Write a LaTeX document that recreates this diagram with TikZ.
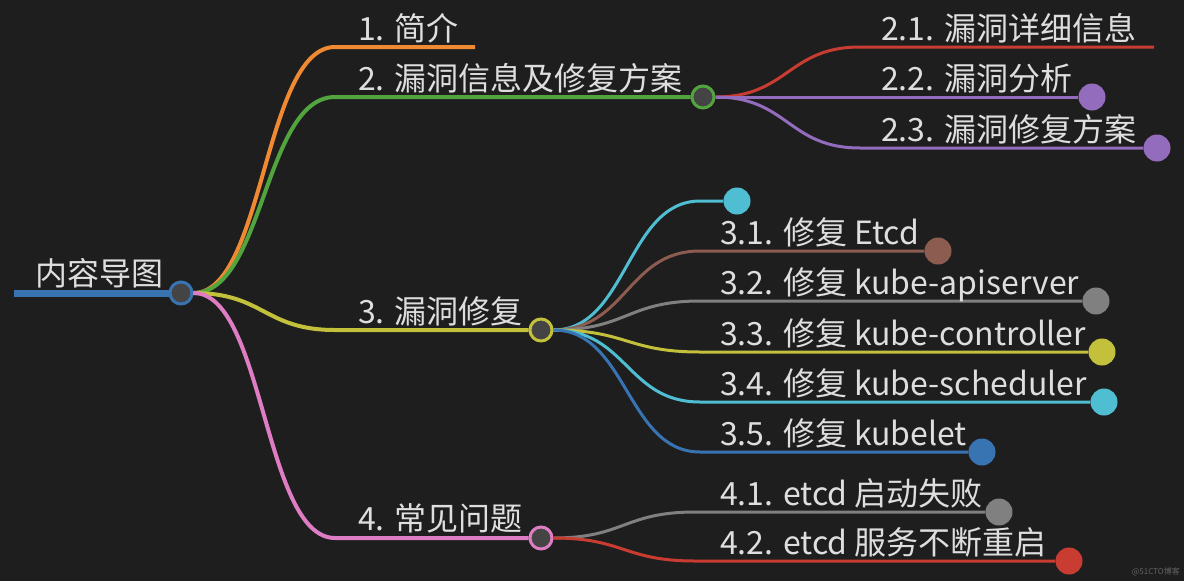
\documentclass[tikz,border=0pt]{standalone}
\usepackage{fontspec}
\setmainfont{Noto Sans CJK SC}
\usepackage{tikz}
\definecolor{bgc}{RGB}{30,30,30}
\definecolor{hubc}{RGB}{68,68,68}
\definecolor{txt}{RGB}{222,222,222}
\definecolor{kblue}{RGB}{56,116,178}
\definecolor{korange}{RGB}{240,138,50}
\definecolor{kgreen}{RGB}{82,165,62}
\definecolor{kred}{RGB}{200,60,50}
\definecolor{kpurple}{RGB}{148,108,190}
\definecolor{kbrown}{RGB}{140,92,80}
\definecolor{kpink}{RGB}{222,125,196}
\definecolor{kgray}{RGB}{128,128,128}
\definecolor{kolive}{RGB}{195,192,60}
\definecolor{kcyan}{RGB}{80,190,210}

\begin{document}
\begin{tikzpicture}[x=1pt,y=-1pt,
    lbl/.style={text=txt,font=\fontsize{32}{38}\selectfont,inner sep=0pt,anchor=base west},
    hub/.style={circle,draw=#1,fill=hubc,line width=3pt,minimum size=22pt,inner sep=0pt},
    leaf/.style={circle,fill=#1,minimum size=27pt,inner sep=0pt},
    br/.style={line width=4pt},
    sub/.style={line width=3pt}]
  \fill[bgc] (0,0) rectangle (1184,581);
  \useasboundingbox (0,0) rectangle (1184,581);

  \coordinate (r0) at (14,293);
  \draw[kblue,line width=7pt] (r0) -- (181,293);
  \node[hub=kblue] (root) at (181,293) {};
  \node[lbl] (t0) at (35,285) {内容导图};

  \coordinate (e1) at (475,47);
  \node[hub=kgreen] (n2) at (703,97) {};
  \node[hub=kolive] (n3) at (541,330) {};
  \node[hub=kpink] (n4) at (541,538) {};
  \foreach \n/\y/\c in {e1/47/korange,n2/97/kgreen,n3/330/kolive,n4/538/kpink}
    \draw[\c,br] (root.east) .. controls (264,293) and (264,\y) .. (335,\y) -- (\n);
  \node[lbl] (t1) at (358,40) {1. 简介};
  \node[lbl] (t2) at (358,90) {2. 漏洞信息及修复方案};
  \node[lbl] (t3) at (358,323) {3. 漏洞修复};
  \node[lbl] (t4) at (358,530) {4. 常见问题};

  \coordinate (e21) at (1154,47);
  \node[leaf=kpurple] (c22) at (1092,97) {};
  \node[leaf=kpurple] (c23) at (1157,148) {};
  \foreach \n/\y/\c in {e21/47/kred,c22/97/kpurple,c23/148/kpurple}
    \draw[\c,sub] (n2.east) .. controls (788,97) and (788,\y) .. (860,\y) -- (\n);
  \node[lbl] (t21) at (881,40) {2.1. 漏洞详细信息};
  \node[lbl] (t22) at (881,90) {2.2. 漏洞分析};
  \node[lbl] (t23) at (881,141) {2.3. 漏洞修复方案};

  \node[leaf=kcyan] (c30) at (737,201) {};
  \draw[kcyan,sub] (n3.east) .. controls (627,330) and (627,201) .. (700,201) -- (c30);
  \foreach \i/\y/\x/\c/\t in {1/251/938/kbrown/{3.1. 修复 Etcd},
      2/301/1096/kgray/{3.2. 修复 kube-apiserver},
      3/352/1102/kolive/{3.3. 修复 kube-controller},
      4/402/1104/kcyan/{3.4. 修复 kube-scheduler},
      5/452/982/kblue/{3.5. 修复 kubelet}} {
    \node[leaf=\c] (c3\i) at (\x,\y) {};
    \draw[\c,sub] (n3.east) .. controls (627,330) and (627,\y) .. (700,\y) -- (c3\i);
    \node[lbl] (t3\i) at (720,\y-7) {\t};
  }

  \node[leaf=kgray] (c41) at (999,512) {};
  \node[leaf=kred] (c42) at (1069,561) {};
  \foreach \n/\y/\c in {c41/512/kgray,c42/561/kred}
    \draw[\c,sub] (n4.east) .. controls (624,538) and (624,\y) .. (695,\y) -- (\n);
  \node[lbl] (t41) at (720,505) {4.1. etcd 启动失败};
  \node[lbl] (t42) at (720,554) {4.2. etcd 服务不断重启};

  \node[text=kgray!70!bgc,font=\fontsize{8}{9}\selectfont,inner sep=0pt,anchor=east] (wm) at (1180,572) {@51CTO博客};
\end{tikzpicture}
\end{document}
